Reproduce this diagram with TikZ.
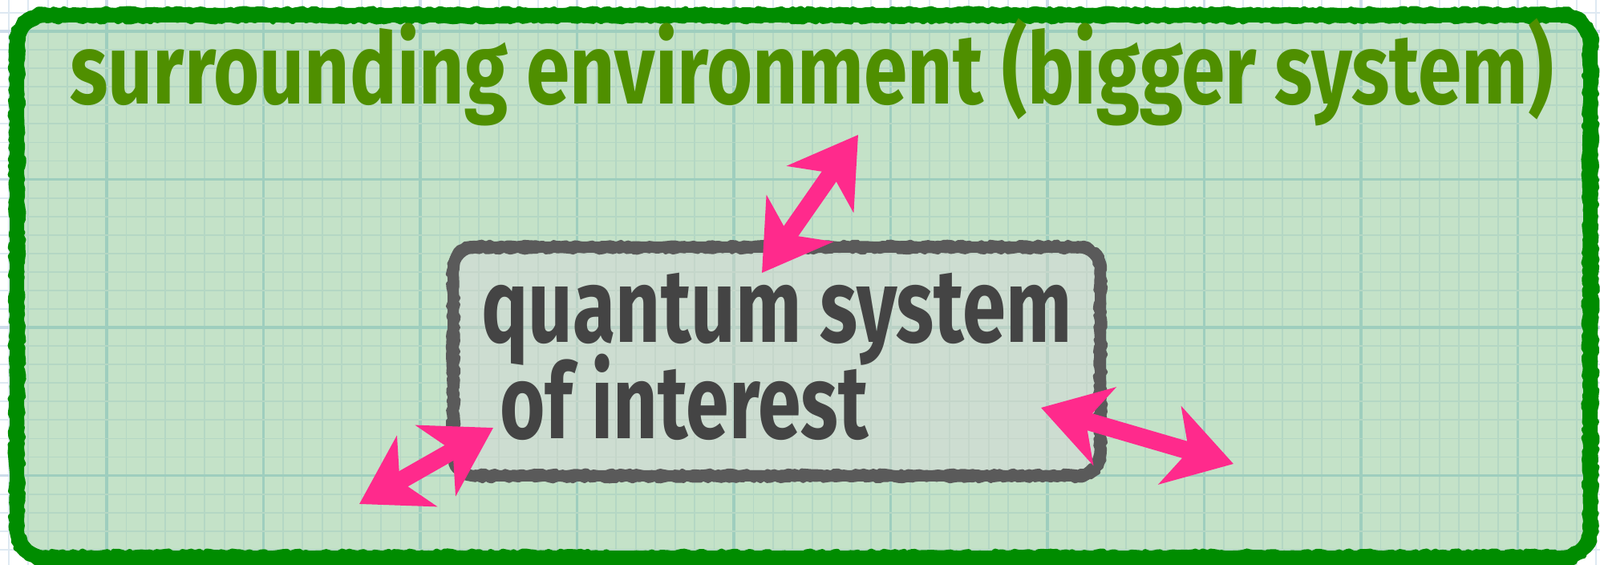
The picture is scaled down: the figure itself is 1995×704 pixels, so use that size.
\documentclass[tikz,border=0pt]{standalone}
\usepackage{fontspec}
\setmainfont{Fira Sans}
\usetikzlibrary{arrows.meta,decorations.pathmorphing}
\definecolor{envgreen}{RGB}{0,140,0}
\definecolor{envtxt}{RGB}{79,143,0}
\definecolor{envfill}{RGB}{196,226,200}
\definecolor{qfill}{RGB}{205,221,209}
\definecolor{qborder}{RGB}{90,90,90}
\definecolor{qtxt}{RGB}{68,68,68}
\definecolor{chalkpink}{RGB}{255,42,140}
\definecolor{gridout}{RGB}{222,233,242}
\definecolor{gridoutmaj}{RGB}{205,220,234}
\definecolor{gridin}{RGB}{180,215,196}
\definecolor{gridinmaj}{RGB}{158,206,190}
\definecolor{gridq}{RGB}{196,214,202}
\definecolor{gridqmaj}{RGB}{186,210,198}
\pgfdeclarelayer{bg}
\pgfsetlayers{bg,main}
\newcommand\papergrid[2]{%
  \foreach \n in {0,...,81}{%
    \pgfmathtruncatemacro\mm{mod(\n,8)}%
    \ifnum\mm=5
      \draw[#2, line width=1.7pt] ({10.8+24.4375*\n},0) -- ({10.8+24.4375*\n},704);
    \else
      \draw[#1, line width=0.9pt] ({10.8+24.4375*\n},0) -- ({10.8+24.4375*\n},704);
    \fi}%
  \foreach \m in {0,...,29}{%
    \pgfmathtruncatemacro\mm{mod(\m,8)}%
    \ifnum\mm=1
      \draw[#2, line width=1.7pt] (0,{16+23.0625*\m}) -- (1995,{16+23.0625*\m});
    \else
      \draw[#1, line width=0.9pt] (0,{16+23.0625*\m}) -- (1995,{16+23.0625*\m});
    \fi}%
}
% rounded outline of node #1, offset #2 outward, corner radius #3, style #4
\newcommand\chalkoutline[4]{%
  \draw[#4] ([shift={({#3-(#2)},{#2})}]#1.north west)
    -- ([shift={({#2-(#3)},{#2})}]#1.north east) arc[start angle=90,end angle=0,radius=#3]
    -- ([shift={({#2},{#3-(#2)})}]#1.south east) arc[start angle=0,end angle=-90,radius=#3]
    -- ([shift={({#3-(#2)},{-1*(#2)})}]#1.south west) arc[start angle=270,end angle=180,radius=#3]
    -- ([shift={({-1*(#2)},{#2-(#3)})}]#1.north west) arc[start angle=180,end angle=90,radius=#3]
    -- cycle;
}
\tikzset{
  envbox/.style={rectangle, outer sep=0pt, inner sep=0pt, minimum width=981pt, minimum height=338pt},
  qbox/.style={rectangle, outer sep=0pt, inner sep=0pt, minimum width=403.5pt, minimum height=142.5pt},
  envstroke/.style={envgreen, line width=9pt, rounded corners=18pt},
  qstroke/.style={qborder, line width=7pt, rounded corners=14pt},
  roughenv/.style={envgreen, line width=2.2pt, line join=round, decorate,
    decoration={random steps, segment length=2.4pt, amplitude=0.9pt}},
  roughq/.style={qborder, line width=1.8pt, line join=round, decorate,
    decoration={random steps, segment length=2.2pt, amplitude=0.8pt}},
  envlabel/.style={text=envtxt, font=\fontsize{62}{62}\selectfont\bfseries, inner sep=0pt},
  qlabel/.style={text=qtxt, font=\fontsize{65}{65}\selectfont\bfseries, inner sep=0pt},
  biarrow/.style={draw=chalkpink, line width=11pt,
    {Stealth[length=41pt,width=50pt,inset=12pt]}-{Stealth[length=41pt,width=50pt,inset=12pt]}}
}
\begin{document}
\begin{tikzpicture}[x=0.5pt,y=-0.5pt]
\useasboundingbox (0,0) rectangle (1995,704);
\node[envbox] (env) at (1002,357) {};
\node[qbox] (qsys) at (968.5,450.5) {};
\begin{pgfonlayer}{bg}
  \fill[white] (0,0) rectangle (1995,704);
  \papergrid{gridout}{gridoutmaj}
  \begin{scope}
    \clip[rounded corners=18pt] (env.north west) rectangle (env.south east);
    \fill[envfill] (0,0) rectangle (1995,704);
    \papergrid{gridin}{gridinmaj}
  \end{scope}
  \begin{scope}
    \clip[rounded corners=14pt] (qsys.north west) rectangle (qsys.south east);
    \fill[qfill] (0,0) rectangle (1995,704);
    \papergrid{gridq}{gridqmaj}
  \end{scope}
\end{pgfonlayer}
\draw[envstroke] (env.north west) rectangle (env.south east);
\chalkoutline{env}{3.8pt}{21.8pt}{roughenv}
\chalkoutline{env}{-3.8pt}{14.2pt}{roughenv}
\draw[qstroke] (qsys.north west) rectangle (qsys.south east);
\chalkoutline{qsys}{3pt}{17pt}{roughq}
\chalkoutline{qsys}{-3pt}{11pt}{roughq}
\node[envlabel, anchor=base west] (envtitle) at (87,130)
  {\resizebox{925pt}{\height}{surrounding environment (bigger system)}};
\node[qlabel, anchor=base west] (qline1) at (600,427)
  {\resizebox{368pt}{\height}{quantum system}};
\node[qlabel, anchor=base west] (qline2) at (623,547)
  {\resizebox{229.5pt}{\height}{of interest}};
\coordinate (topA) at (950,340);
\coordinate (topB) at (1070,168);
\coordinate (leftA) at (448,628);
\coordinate (leftB) at (615,533);
\coordinate (rightA) at (1298,508);
\coordinate (rightB) at (1538,578);
\draw[biarrow] (topA) -- (topB);
\draw[biarrow] (leftA) -- (leftB);
\draw[biarrow] (rightA) -- (rightB);
\end{tikzpicture}
\end{document}
